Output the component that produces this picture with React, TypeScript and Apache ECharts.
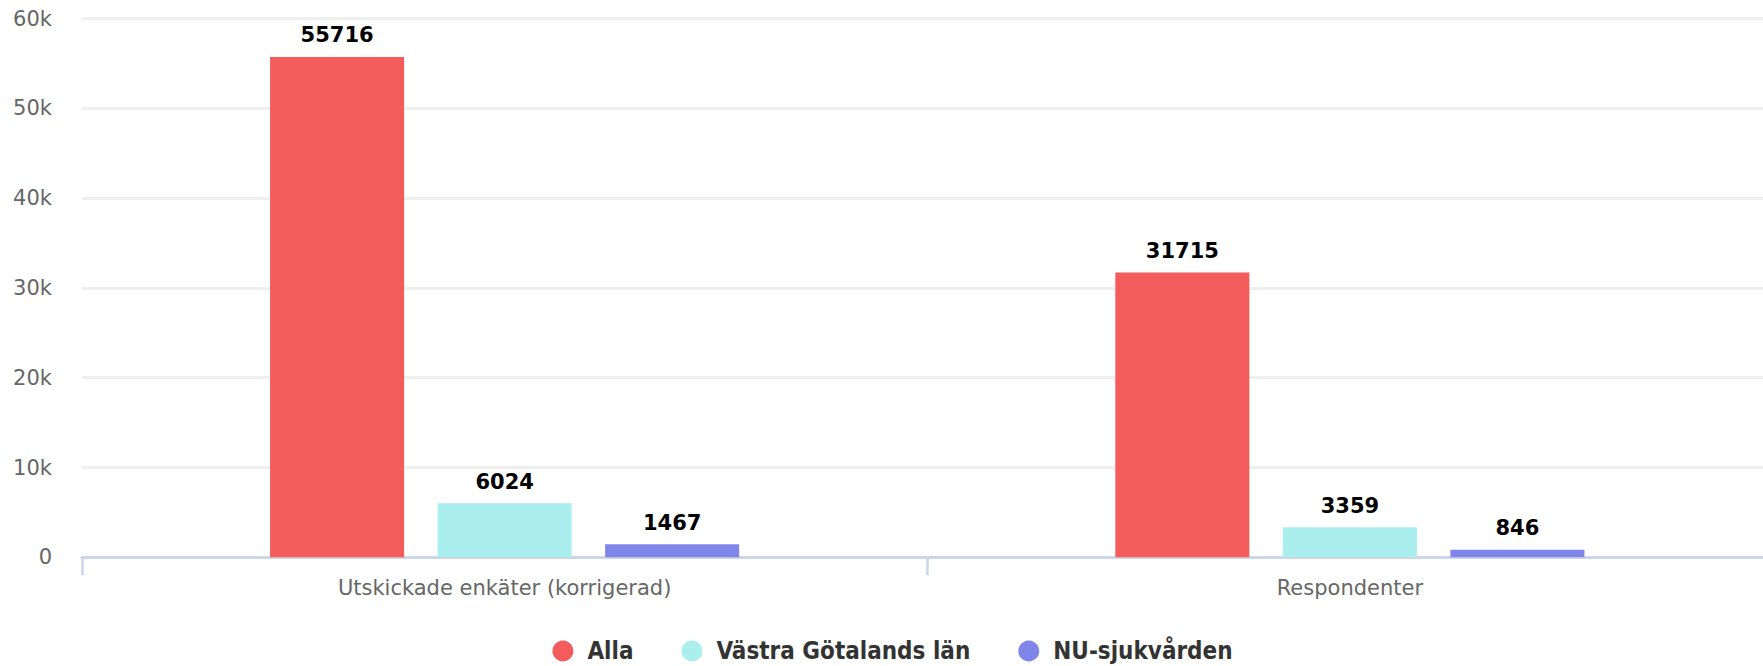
import React, { useEffect, useRef } from "react";
import * as echarts from "echarts";

const categories = ["Utskickade enkäter (korrigerad)", "Respondenter"];
const seriesNames = ["Alla", "Västra Götalands län", "NU-sjukvården"];
const allaValues = [55716, 31715];
const vgValues = [6024, 3359];
const nuValues = [1467, 846];
const seriesColors = ["#f45b5b", "#aaeeee", "#8085e9"];
const yTicks = { min: 0, max: 60000, interval: 10000 };

export default function App() {
  const ref = useRef<HTMLDivElement>(null);
  useEffect(() => {
    if (!ref.current) return;
    const chart = echarts.init(ref.current, null, { renderer: "svg" });
    const values = [allaValues, vgValues, nuValues];
    const axisFont = "DejaVu Sans, Verdana, sans-serif";
    chart.setOption({
      animation: false,
      backgroundColor: "#ffffff",
      grid: { left: 82, right: 12.5, top: 18.5, bottom: 108.7, containLabel: false },
      legend: {
        left: "center",
        top: 634,
        icon: "circle",
        itemWidth: 21,
        itemHeight: 21,
        itemGap: 48,
        data: seriesNames,
        textStyle: {
          fontFamily: "DejaVu Sans Condensed, DejaVu Sans, sans-serif",
          fontWeight: "bold",
          fontSize: 24,
          color: "#333333",
          padding: [0, 0, 0, 9],
        },
      },
      xAxis: {
        type: "category",
        data: categories,
        axisLine: { lineStyle: { color: "#ccd6eb", width: 3 } },
        axisTick: { show: true, length: 18, lineStyle: { color: "#ccd6eb", width: 2.5 } },
        axisLabel: { fontFamily: axisFont, fontSize: 21, color: "#666666", margin: 20 },
        splitLine: { show: false },
      },
      yAxis: {
        type: "value",
        min: yTicks.min,
        max: yTicks.max,
        interval: yTicks.interval,
        axisLine: { show: false },
        axisTick: { show: false },
        axisLabel: {
          fontFamily: axisFont,
          fontSize: 21,
          color: "#666666",
          margin: 30,
          padding: [7, 0, 0, 0],
          formatter: (v: number) => (v === 0 ? "0" : v / 1000 + "k"),
        },
        splitLine: { lineStyle: { color: "#efefef", width: 3 } },
      },
      series: seriesNames.map((name, i) => ({
        name,
        type: "bar",
        data: values[i],
        barGap: "25%",
        barCategoryGap: "44.5%",
        itemStyle: { color: seriesColors[i] },
        label: {
          show: true,
          position: "top",
          distance: 11,
          fontFamily: axisFont,
          fontWeight: "bold",
          fontSize: 21,
          color: "#000000",
        },
      })),
    });
    return () => chart.dispose();
  }, []);
  return (
    <div
      style={{
        position: "fixed",
        left: 0,
        top: 0,
        width: 1763,
        height: 666,
        overflow: "hidden",
        background: "#ffffff",
      }}
    >
      <div ref={ref} style={{ width: 1785, height: 666 }} />
    </div>
  );
}
